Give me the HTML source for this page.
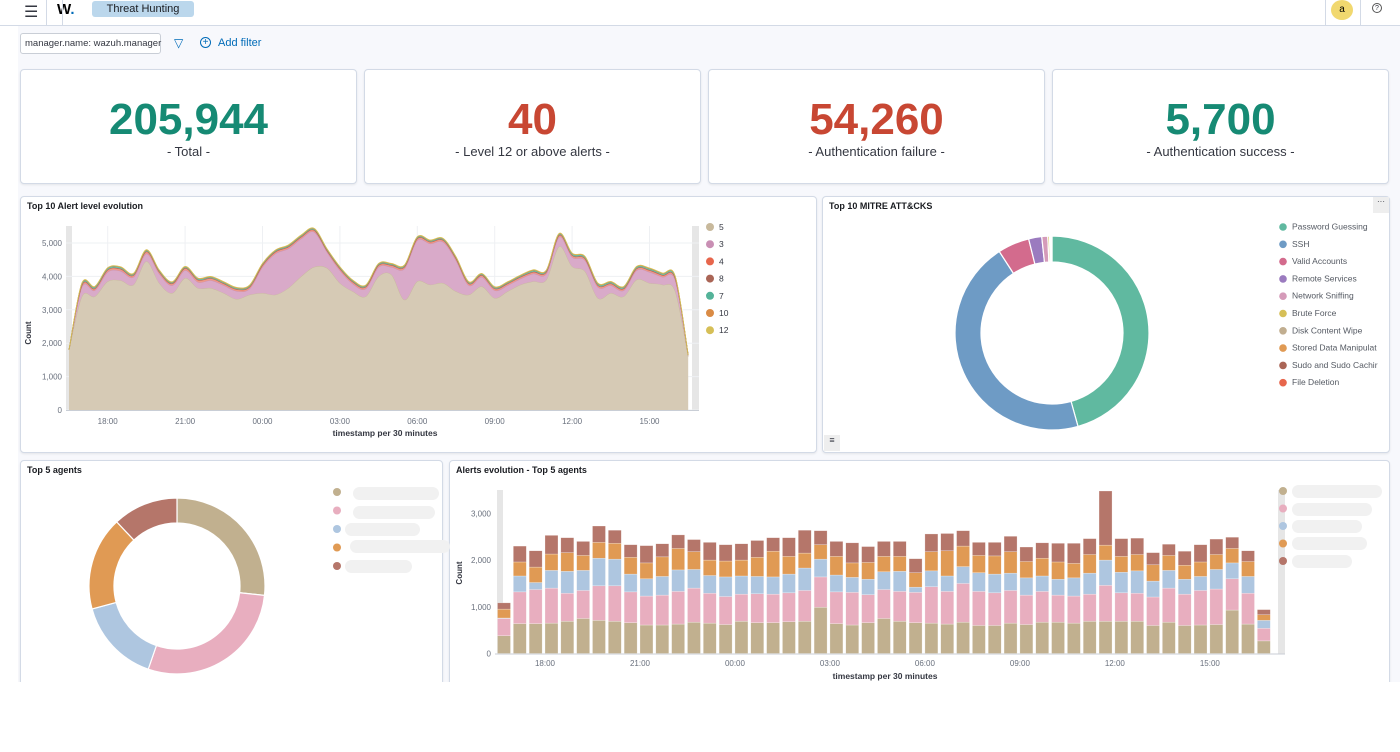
<!DOCTYPE html>
<html><head><meta charset="utf-8"><style>
*{box-sizing:border-box;margin:0;padding:0}
body{width:1400px;height:752px;background:#fff;font-family:"Liberation Sans",sans-serif;position:relative;overflow:hidden;color:#343741}
.abs{position:absolute}
.bg{left:18px;top:26px;width:1382px;height:656px;background:#f7f8fc}
.card{position:absolute;background:#fff;border:1px solid #d3dae6;border-radius:4px;box-shadow:0 1px 2px rgba(0,0,0,.08)}
.stat{text-align:center}
.stat .v{font-size:44px;font-weight:bold;margin-top:26px;line-height:48px}
.stat .l{font-size:13px;color:#343741}
.ptitle{position:absolute;left:6px;top:4px;font-size:9px;font-weight:bold;color:#1a1c21}
</style></head><body>
<div class="abs bg"></div>
<div class="abs" style="left:0;top:0;width:1400px;height:26px;background:#fff;border-bottom:1px solid #d3dae6"></div>
<div class="abs" style="left:24px;top:2px;font-size:16px">☰</div>
<div class="abs" style="left:46px;top:0;width:1px;height:26px;background:#d3dae6"></div>
<div class="abs" style="left:57px;top:1px;font-size:15px;font-weight:bold;color:#000">W<span style="color:#006bb8">.</span></div>
<div class="abs" style="left:62px;top:0;width:1px;height:26px;background:#d3dae6"></div>
<div class="abs" style="left:92px;top:1px;width:102px;height:16px;background:#bbd7ec;border-radius:3px;font-size:11px;line-height:16px;text-align:center;color:#1a1c21">Threat Hunting</div>
<div class="abs" style="left:1325px;top:0;width:1px;height:26px;background:#d3dae6"></div>
<div class="abs" style="left:1331px;top:0;width:22px;height:20px;border-radius:50%;background:#f1d86f;font-size:10px;text-align:center;line-height:20px;color:#000">a</div>
<div class="abs" style="left:1360px;top:0;width:1px;height:26px;background:#d3dae6"></div>
<div class="abs" style="left:1372px;top:3px;width:10px;height:10px;border:1px solid #555;border-radius:50%;font-size:7px;text-align:center;line-height:9px">?</div>

<div class="abs" style="left:20px;top:33px;width:141px;height:21px;background:#fff;border:1px solid #c9ced6;border-radius:3px;font-size:9.5px;line-height:19px;padding-left:4px;color:#343741;white-space:nowrap">manager.name: wazuh.manager</div>
<div class="abs" style="left:174px;top:36px;font-size:12px;color:#006bb8">▽</div>
<div class="abs" style="left:200px;top:37px;width:11px;height:11px;border:1px solid #006bb8;border-radius:50%;font-size:10px;line-height:9px;text-align:center;color:#006bb8">+</div>
<div class="abs" style="left:218px;top:37px;font-size:11px;color:#006bb8">Add filter</div>

<div class="card stat" style="left:20px;top:69px;width:337px;height:115px"><div class="v" style="color:#168a74">205,944</div><div class="l">- Total -</div></div>
<div class="card stat" style="left:364px;top:69px;width:337px;height:115px"><div class="v" style="color:#c84733">40</div><div class="l">- Level 12 or above alerts -</div></div>
<div class="card stat" style="left:708px;top:69px;width:337px;height:115px"><div class="v" style="color:#c84733">54,260</div><div class="l">- Authentication failure -</div></div>
<div class="card stat" style="left:1052px;top:69px;width:337px;height:115px"><div class="v" style="color:#168a74">5,700</div><div class="l">- Authentication success -</div></div>

<div class="card" style="left:20px;top:196px;width:797px;height:257px"><div class="ptitle">Top 10 Alert level evolution</div></div>
<div class="card" style="left:822px;top:196px;width:568px;height:257px"><div class="ptitle">Top 10 MITRE ATT&amp;CKS</div>
<div class="abs" style="right:0;top:0;width:16px;height:16px;background:#eee;font-size:8px;text-align:center">···</div>
<div class="abs" style="left:1px;bottom:1px;width:16px;height:16px;background:#eee;font-size:9px;text-align:center">≡</div></div>
<div class="card" style="left:20px;top:460px;width:423px;height:230px"><div class="ptitle">Top 5 agents</div></div>
<div class="card" style="left:449px;top:460px;width:941px;height:230px"><div class="ptitle">Alerts evolution - Top 5 agents</div></div>
<div class="abs" style="left:0;top:682px;width:1400px;height:70px;background:#fff"></div>

<svg id="charts" class="abs" style="left:0;top:0" width="1400" height="752" xmlns="http://www.w3.org/2000/svg" font-family="Liberation Sans, sans-serif"></svg>

<script>
const areaTimeTicks = ["18:00","21:00","00:00","03:00","06:00","09:00","12:00","15:00"];
const areaYTicks = [0,1000,2000,3000,4000,5000];
const level5 = [1800,3400,3400,3850,3880,3750,4450,3800,3500,3950,3650,3650,3500,3320,3450,3500,3450,3650,4000,4280,4250,3800,3550,3400,4000,4050,3300,3850,3750,3800,3550,3450,3700,3350,3550,3750,3850,3900,4900,4300,4150,3350,3500,3400,3900,3800,3750,3550,1600];
const level3 = [0,280,180,280,280,230,230,280,230,230,180,230,230,240,180,780,1230,1180,1130,1050,480,380,230,230,280,230,930,1230,1230,1230,930,280,280,230,180,180,230,180,280,280,330,330,230,180,280,330,230,330,40];
const level4 = [0,50,50,60,60,50,60,50,50,60,60,60,50,50,50,50,50,50,50,50,40,50,50,50,50,50,50,50,50,50,50,50,50,50,50,50,50,50,50,50,50,50,50,50,50,50,50,50,5];
const level8 = [0,10,10,10,10,10,10,10,10,10,10,10,10,10,10,10,10,10,10,10,10,10,10,10,10,10,10,10,10,10,10,10,10,10,10,10,10,10,10,10,10,10,10,10,10,10,10,10,0];
const level7 = [0,40,40,40,40,30,30,30,30,30,30,30,30,30,30,30,30,30,30,30,30,30,30,30,30,30,30,30,30,30,30,30,30,30,30,30,40,30,30,40,40,40,40,40,40,40,40,40,0];
const level10 = [0,10,10,10,10,10,10,10,10,10,10,10,10,10,10,10,10,10,10,10,10,10,10,10,10,10,10,10,10,10,10,10,10,10,10,10,10,10,10,10,10,10,10,10,10,10,10,10,0];
const level12 = [0,10,10,10,10,10,10,10,10,10,10,10,10,10,10,10,10,10,10,10,10,10,10,10,10,10,10,10,10,10,10,10,10,10,10,10,10,10,10,10,10,10,10,10,10,10,10,10,5];
const areaNames = ["5","3","4","8","7","10","12"];

const mitreLabels = ["Password Guessing","SSH","Valid Accounts","Remote Services","Network Sniffing","Brute Force","Disk Content Wipe","Stored Data Manipulat","Sudo and Sudo Cachir","File Deletion"];
const mitreValues = [46,45.5,5.3,2.2,1.0,0.3,0.1,0.1,0.1,0.1];

const agentValues = [26.7,28.6,15.5,17.2,12];

const barYTicks = [0,1000,2000,3000];
const agentA = [380,640,640,650,690,750,710,690,660,610,610,630,670,650,620,690,660,660,680,690,990,640,610,660,750,690,660,650,630,670,600,600,650,620,670,670,650,690,690,690,690,600,670,600,610,620,930,630,270];
const agentB = [370,680,730,750,600,600,740,760,660,620,640,700,730,640,600,580,620,610,620,660,650,680,700,600,620,640,650,780,700,830,730,700,700,630,660,580,580,580,770,610,600,610,730,670,740,760,670,660,270];
const agentC = [10,340,150,380,470,430,590,570,380,370,400,460,400,380,420,390,370,370,400,480,380,360,320,330,380,430,110,340,330,360,400,400,370,370,330,340,390,450,540,440,480,340,380,320,300,420,340,360,170];
const agentD = [190,300,330,350,400,320,340,340,360,340,420,460,380,330,340,340,410,550,380,320,310,400,310,360,330,320,310,410,540,440,370,390,460,350,380,370,310,400,320,340,350,350,320,300,310,320,310,320,120];
const agentE = [135,340,350,400,320,300,350,280,270,370,280,290,260,380,350,350,360,290,400,490,300,320,430,340,320,320,300,380,370,330,280,290,330,310,330,400,430,340,1160,380,350,260,240,300,370,330,240,230,110];

const svg = document.getElementById('charts');
const NS = 'http://www.w3.org/2000/svg';
function mk(tag, attrs, parent){const e=document.createElementNS(NS,tag);for(const k in attrs)e.setAttribute(k,attrs[k]);(parent||svg).appendChild(e);return e;}
function txt(x,y,s,attrs){const t=mk('text',Object.assign({x:x,y:y},attrs||{}));t.textContent=s;return t;}

const aX0=69, aStep=12.9, aY0=410, aK=0.0334;
const ax = i => aX0 + i*aStep;
const ay = v => aY0 - v*aK;
const ag = mk('g',{});


mk('rect',{x:66,y:226,width:6,height:185,fill:'#e6e6e6'},ag);
mk('rect',{x:692,y:226,width:7,height:185,fill:'#e6e6e6'},ag);
areaYTicks.forEach(v=>{
  mk('line',{x1:66,x2:699,y1:ay(v),y2:ay(v),stroke:'#eef0f3','stroke-width':1},ag);
  const t=txt(62,ay(v)+3,v.toLocaleString('en-US'),{'font-size':8,fill:'#69707d','text-anchor':'end'});ag.appendChild(t);
});
areaTimeTicks.forEach((s,k)=>{
  const xx = ax(3+k*6);
  mk('line',{x1:xx,x2:xx,y1:226,y2:410,stroke:'#eef0f3'},ag);
  const t=txt(xx,424,s,{'font-size':8,fill:'#69707d','text-anchor':'middle'});ag.appendChild(t);
});
mk('line',{x1:66,x2:699,y1:410.5,y2:410.5,stroke:'#c9ced6'},ag);
const areaSeries=[level5,level3,level4,level8,level7,level10,level12];
const areaFill=['#d6cab5','#d9aac9','#ec9a8a','#c18c80','#6fc2a9','#e9ab74','#e2cd75'];
const areaLine=['#c8b99c','#c98fb4','#e7664c','#aa6556','#54b399','#da8b45','#d6bf57'];
function smooth(pts){let d='M'+pts[0][0]+','+pts[0][1];for(let i=0;i<pts.length-1;i++){const p0=pts[i-1]||pts[i],p1=pts[i],p2=pts[i+1],p3=pts[i+2]||p2;const c1x=p1[0]+(p2[0]-p0[0])/6,c1y=p1[1]+(p2[1]-p0[1])/6,c2x=p2[0]-(p3[0]-p1[0])/6,c2y=p2[1]-(p3[1]-p1[1])/6;d+=' C'+c1x+','+c1y+' '+c2x+','+c2y+' '+p2[0]+','+p2[1];}return d;}
let base=level5.map(()=>0);
areaSeries.forEach((s,si)=>{
  const top=base.map((b,i)=>b+s[i]);
  const tp=top.map((v,i)=>[ax(i),ay(v)]);
  const bp=base.map((v,i)=>[ax(i),ay(v)]).reverse();
  const d=smooth(tp)+' L'+smooth(bp).slice(1)+' Z';
  const p=mk('path',{d:d,fill:areaFill[si],stroke:'none'},ag);
  
  
  mk('path',{d:smooth(tp),fill:'none',stroke:areaLine[si],'stroke-width':0.8},ag);
  base=top;
});
{const t=txt(31,333,'Count',{'font-size':8,'font-weight':'bold',fill:'#343741','text-anchor':'middle',transform:'rotate(-90 31 333)'});ag.appendChild(t);}
{const t=txt(385,436,'timestamp per 30 minutes',{'font-size':8.5,'font-weight':'bold',fill:'#343741','text-anchor':'middle'});ag.appendChild(t);}
areaNames.forEach((n,i)=>{
  const g=mk('g',{},ag);
  
  
  mk('circle',{cx:710,cy:227+i*17.2,r:4,fill:areaLine[i]},g);
  const t=txt(719,230+i*17.2,n,{'font-size':8.5,fill:'#343741'});g.appendChild(t);
});

function donut(cx,cy,R,r,vals,cols,name){
  const g=mk('g',{});
  
  
  const tot=vals.reduce((a,b)=>a+b,0);let a=0;
  vals.forEach((v,i)=>{
    const a0=a/tot*2*Math.PI,a1=(a+v)/tot*2*Math.PI;a+=v;
    const P=(rad,an)=>[cx+rad*Math.sin(an),cy-rad*Math.cos(an)];
    const lg=(a1-a0)>Math.PI?1:0;
    const [x0,y0]=P(R,a0),[x1,y1]=P(R,a1),[x2,y2]=P(r,a1),[x3,y3]=P(r,a0);
    const p=mk('path',{d:`M${x0},${y0} A${R},${R} 0 ${lg} 1 ${x1},${y1} L${x2},${y2} A${r},${r} 0 ${lg} 0 ${x3},${y3} Z`,fill:cols[i],stroke:'#fff','stroke-width':1.2},g);
    
    
  });
  return g;
}
const mitreCols=['#60b9a0','#6e9bc5','#d36b8d','#9b7bbf','#d59bb9','#d6bf57','#c1ae90','#e09a54','#aa6556','#e7664c'];
donut(1052,333,97,71,mitreValues,mitreCols,'mitre-donut');
mitreLabels.forEach((l,i)=>{
  const g=mk('g',{});
  
  
  mk('circle',{cx:1283,cy:227+i*17.3,r:3.8,fill:mitreCols[i]},g);
  const t=txt(1292,229.5+i*17.3,l,{'font-size':8.5,fill:'#555a63'});g.appendChild(t);
});
const agentCols=['#c1b08f','#e8aebf','#aec6e0','#e09a54','#b5766a'];
donut(177,586,88,63,agentValues,agentCols,'agents-donut');
[[353,487,86],[353,506,82],[345,523,75],[350,540,100],[345,560,67]].forEach((r,i)=>{
  const g=mk('g',{});
  
  
  mk('circle',{cx:337,cy:492+i*18.5,r:4,fill:agentCols[i]},g);
  mk('rect',{x:r[0],y:r[1],width:r[2],height:13,rx:6.5,fill:'#f1f1f1'},g);
});

const bX0=504, bStep=15.83, bY0=653.5, bK=0.0467, bW=13;
const bx = i => bX0 + i*bStep;
const by = v => bY0 - v*bK;
const bg=mk('g',{});


mk('rect',{x:497,y:490,width:6,height:164,fill:'#e6e6e6'},bg);
mk('rect',{x:1278,y:490,width:7,height:164,fill:'#e6e6e6'},bg);
barYTicks.forEach(v=>{const t=txt(491,by(v)+3,v.toLocaleString('en-US'),{'font-size':8,fill:'#69707d','text-anchor':'end'});bg.appendChild(t);});
areaTimeTicks.forEach((s,k)=>{const xx=bx(0)+41+k*6*bStep;const t=txt(xx,666,s,{'font-size':8,fill:'#69707d','text-anchor':'middle'});bg.appendChild(t);});
mk('line',{x1:495,x2:1285,y1:654,y2:654,stroke:'#c9ced6'},bg);
const barSeries=[agentA,agentB,agentC,agentD,agentE];
agentA.forEach((_,i)=>{
  let acc=0;
  barSeries.forEach((s,si)=>{
    const r=mk('rect',{x:bx(i)-bW/2,y:by(acc+s[i]),width:bW,height:Math.max(0,s[i]*bK),fill:agentCols[si],stroke:'rgba(255,255,255,0.5)','stroke-width':0.5},bg);
    
    
    acc+=s[i];
  });
});
{const t=txt(462,573,'Count',{'font-size':8,'font-weight':'bold',fill:'#343741','text-anchor':'middle',transform:'rotate(-90 462 573)'});bg.appendChild(t);}
{const t=txt(885,679,'timestamp per 30 minutes',{'font-size':8.5,'font-weight':'bold',fill:'#343741','text-anchor':'middle'});bg.appendChild(t);}
[[1292,485,90],[1292,503,80],[1292,520,70],[1292,537,75],[1292,555,60]].forEach((r,i)=>{
  const g=mk('g',{});
  
  
  mk('circle',{cx:1283,cy:491+i*17.5,r:4,fill:agentCols[i]},g);
  mk('rect',{x:r[0],y:r[1],width:r[2],height:13,rx:6.5,fill:'#f1f1f1'},g);
});
</script>
</body></html>
